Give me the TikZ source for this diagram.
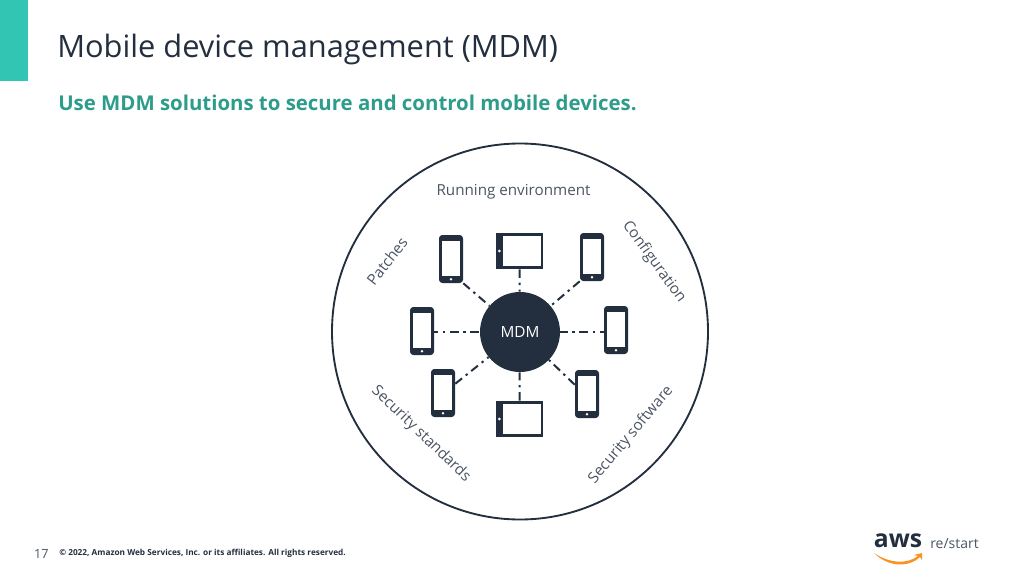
\documentclass[tikz,border=0pt]{standalone}
\usepackage{xcolor}
\usepackage{fontspec}
\setmainfont{Open Sans}
\usetikzlibrary{arrows.meta,positioning,calc}
\definecolor{mdmnavy}{HTML}{232F3E}
\definecolor{mdmgray}{HTML}{4B5563}
\definecolor{mdmteal}{HTML}{2E9C8B}
\definecolor{mdmbar}{HTML}{33C5B3}
\definecolor{mdmorange}{HTML}{F7931E}
\tikzset{
    topiclabel/.style={font=\fontsize{11.4}{13}\selectfont,text=mdmgray,inner sep=0pt},
    linkline/.style={mdmnavy,line width=1.5pt,dash pattern=on 6.5pt off 3.5pt on 1.8pt off 3.5pt},
    phonebox/.style={rectangle,rounded corners=2.5pt,fill=mdmnavy,minimum width=18pt,minimum height=36pt,inner sep=0pt,
        path picture={
            \fill[white,sharp corners] ($(path picture bounding box.south west)+(2.2pt,5.6pt)$) rectangle ($(path picture bounding box.north east)+(-2.2pt,-4.4pt)$);
            \fill[white] ($(path picture bounding box.south)+(0,2.8pt)$) circle (1.1pt);
        }},
    tabletbox/.style={rectangle,fill=mdmnavy,minimum width=35.5pt,minimum height=27pt,inner sep=0pt,
        path picture={
            \fill[white] ($(path picture bounding box.south west)+(5.2pt,2pt)$) rectangle ($(path picture bounding box.north east)+(-1.6pt,-2pt)$);
            \fill[white] ($(path picture bounding box.west)+(2.6pt,0)$) circle (1.1pt);
        }}
}

\begin{document}
\begin{tikzpicture}[x=0.75pt,y=-0.75pt]
    \useasboundingbox (0,0) rectangle (1032,578);
    \fill[mdmbar] (0,0) rectangle (28,81);
    \node[anchor=west,inner sep=0pt,font=\fontsize{23.1}{27}\selectfont,text=mdmnavy] (title) at (57,49) {Mobile device management (MDM)};
    \node[anchor=west,inner sep=0pt,font=\fontsize{15.3}{18}\selectfont\bfseries,text=mdmteal] (subtitle) at (58,103) {Use MDM solutions to secure and control mobile devices.};

    \node[circle,draw=mdmnavy,line width=1.4pt,minimum size=282pt,inner sep=0pt] (outer) at (520,331.5) {};
    \node[circle,fill=mdmnavy,text=white,minimum size=60pt,inner sep=0pt,font=\fontsize{11.5}{13}\selectfont] (mdm) at (520,332) {MDM};

    \node[phonebox] (phoneA) at (451,259) {};
    \node[phonebox] (phoneB) at (592,257) {};
    \node[phonebox] (phoneC) at (422,331) {};
    \node[phonebox] (phoneD) at (616,330) {};
    \node[phonebox] (phoneE) at (443,393) {};
    \node[phonebox] (phoneF) at (587,394) {};
    \node[tabletbox] (tabletA) at (519.5,251) {};
    \node[tabletbox] (tabletB) at (519.5,419) {};

    \draw[linkline] (phoneA.south east) -- (mdm);
    \draw[linkline] (phoneB.south west) -- (mdm);
    \draw[linkline,dash phase=3.5pt] (phoneC.east |- mdm) -- (mdm);
    \draw[linkline,dash phase=3.5pt] (phoneD.west |- mdm) -- (mdm);
    \draw[linkline] (phoneE.37) -- (mdm);
    \draw[linkline] (phoneF.143) -- (mdm);
    \draw[linkline] (tabletA.south) -- (mdm);
    \draw[linkline] (tabletB.north) -- (mdm);

    \node[topiclabel] (running) at (513.5,192) {Running environment};
    \node[topiclabel,rotate=52] (patches) at (387,261) {Patches};
    \node[topiclabel,rotate=-54] (config) at (654,262) {Configuration};
    \node[topiclabel,rotate=-44] (standards) at (421,434) {Security standards};
    \node[topiclabel,rotate=50] (software) at (631,435) {Security software};

    \node[anchor=east,inner sep=0pt,font=\fontsize{9.5}{11}\selectfont,text=mdmgray] (pagenum) at (49,554) {17};
    \node[anchor=west,inner sep=0pt,font=\fontsize{6.2}{7}\selectfont\bfseries,text=mdmnavy] (copyright) at (59,553) {© 2022, Amazon Web Services, Inc. or its affiliates. All rights reserved.};

    \node[anchor=center,inner sep=0pt,font=\fontsize{18.5}{22}\selectfont\bfseries,text=mdmnavy] (awstext) at (898,541) {aws};
    \node[anchor=west,inner sep=0pt,font=\fontsize{10.5}{12}\selectfont,text=mdmgray] (restart) at (930,544) {re/start};
    \fill[mdmorange] (874,553) .. controls (890,564) and (908,564) .. (918,556) -- (914,555) -- (922,553) -- (922,560) -- (920,557) .. controls (908,568) and (888,567) .. (874,553) -- cycle;
\end{tikzpicture}
\end{document}
